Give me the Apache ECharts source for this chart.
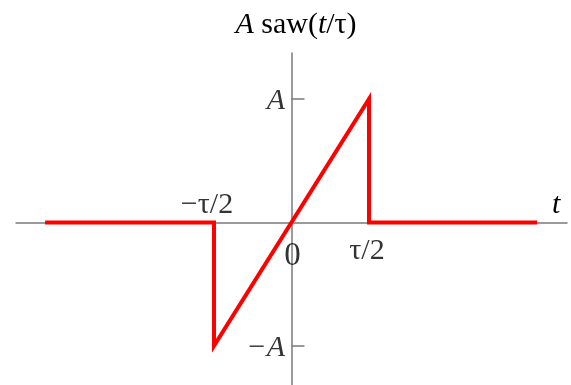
<!DOCTYPE html>
<html>
<head>
<meta charset="utf-8">
<script src="https://cdn.jsdelivr.net/npm/echarts@6/dist/echarts.min.js"></script>
<style>
  html, body { margin: 0; padding: 0; background: #fff; }
  #chart { width: 571px; height: 385px; }
</style>
</head>
<body>
<div id="chart"></div>
<script>
// Sawtooth pulse A·saw(t/τ): zero outside |t| < τ/2, linear ramp inside.
const tValues = [-3.18, -1, -1, 1, 1, 3.17];   // t in units of τ/2
const sawValues = [0, 0, -1, 1, 0, 0];          // in units of A
const xTickValues = [-1, 0, 1];
const xTickLabels = ['−τ/2', '0', 'τ/2'];
const yTickValues = [-1, 1];
const yTickLabels = ['−A', 'A'];

const serif = 'Liberation Serif';
const axisGray = '#7a7a7a';
const textSize = 30;

// label placement relative to the tick point (pixels)
const xLabelStyle = {
  '−τ/2': { offset: [-7, -17], fontSize: textSize },
  '0': { offset: [1, 34], fontSize: 33 },
  'τ/2': { offset: [-2, 29], fontSize: textSize }
};

const chart = echarts.init(document.getElementById('chart'), null, { renderer: 'canvas' });

chart.setOption({
  animation: false,
  backgroundColor: '#fff',
  title: {
    text: '{it|A}{rm| saw(}{it|t}{rm|/τ)}',
    left: 291,
    textAlign: 'center',
    top: 5,
    textStyle: {
      fontWeight: 'normal',
      rich: {
        it: { fontFamily: serif, fontStyle: 'italic', fontWeight: 'normal', fontSize: textSize, color: '#000' },
        rm: { fontFamily: serif, fontWeight: 'normal', fontSize: textSize, color: '#000' }
      }
    }
  },
  grid: { left: 16, top: 53, width: 551, height: 332, containLabel: false, outerBoundsMode: 'none' },
  xAxis: {
    type: 'value',
    min: -3.555,
    max: 3.555,
    splitLine: { show: false },
    axisTick: { show: false },
    axisLabel: { show: false },
    axisLine: { onZero: true, lineStyle: { color: axisGray, width: 1.5 } },
    name: 't',
    nameLocation: 'end',
    nameGap: -15,
    nameTextStyle: {
      fontFamily: serif, fontStyle: 'italic', fontSize: textSize, color: '#000',
      align: 'left', verticalAlign: 'bottom', lineHeight: 30, padding: [0, 0, 2, 0]
    }
  },
  yAxis: {
    type: 'value',
    min: -1.317,
    max: 1.372,
    splitLine: { show: false },
    axisLine: { onZero: true, lineStyle: { color: axisGray, width: 1.5 } },
    axisTick: {
      show: true, inside: true, length: 13,
      customValues: yTickValues,
      lineStyle: { color: axisGray, width: 1.5 }
    },
    axisLabel: { show: false }
  },
  series: [
    {
      name: 'saw',
      type: 'line',
      data: tValues.map((t, i) => [t, sawValues[i]]),
      showSymbol: false,
      symbol: 'none',
      lineStyle: { color: '#ff0000', width: 4, cap: 'butt', join: 'miter' },
      z: 3
    },
    {
      name: 'xTicks',
      type: 'scatter',
      symbolSize: 1,
      itemStyle: { color: 'transparent' },
      data: xTickValues.map((t, i) => ({
        value: [t, 0],
        label: {
          show: true,
          position: 'inside',
          formatter: xTickLabels[i],
          offset: xLabelStyle[xTickLabels[i]].offset,
          fontSize: xLabelStyle[xTickLabels[i]].fontSize,
          fontFamily: serif,
          color: '#000'
        }
      })),
      silent: true,
      z: 1
    },
    {
      name: 'yTicks',
      type: 'scatter',
      symbolSize: 1,
      itemStyle: { color: 'transparent' },
      data: yTickValues.map((v, i) => ({
        value: [0, v],
        label: {
          show: true,
          position: 'left',
          distance: 6,
          offset: [0, 2],
          formatter: yTickLabels[i],
          fontSize: textSize,
          fontStyle: 'italic',
          fontFamily: serif,
          color: '#000'
        }
      })),
      silent: true,
      z: 1
    }
  ]
});
</script>
</body>
</html>
